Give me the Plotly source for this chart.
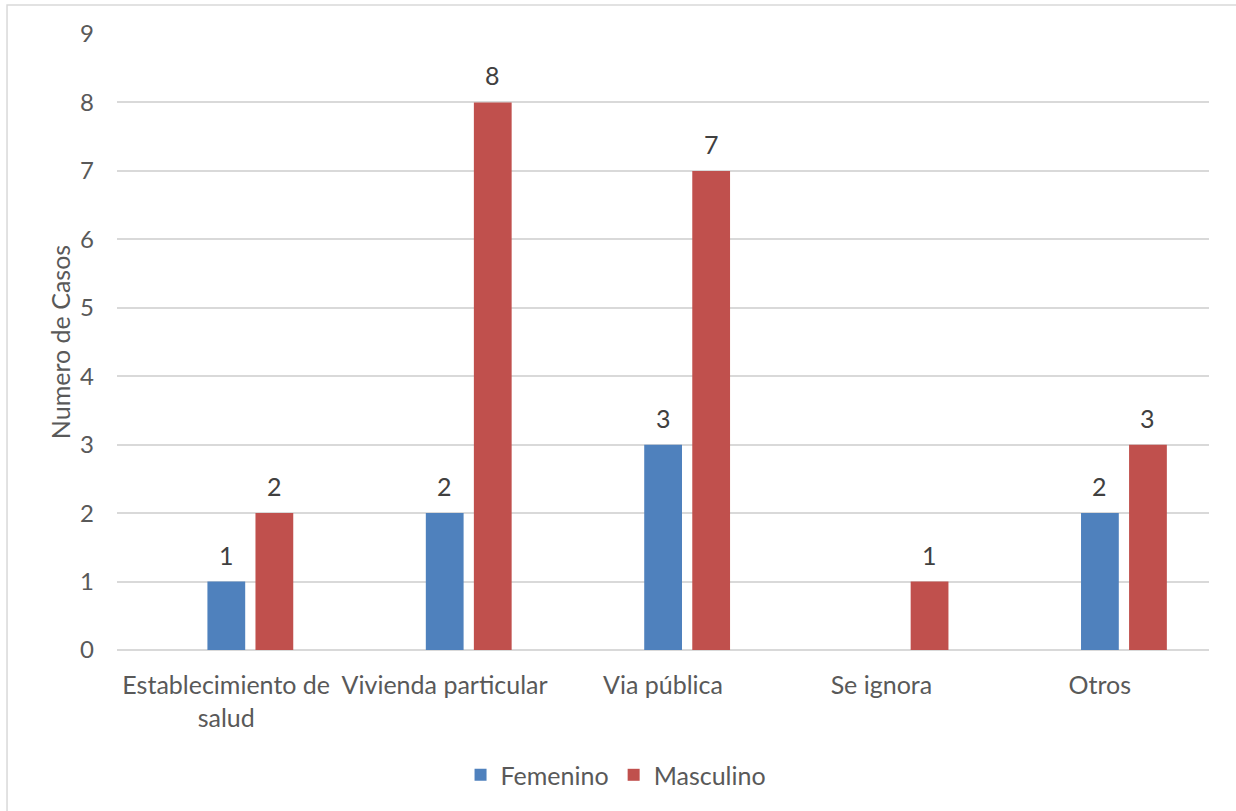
import plotly.graph_objects as go

# Lugar de ocurrencia y número de casos por sexo
categorias = ["Establecimiento de<br>salud", "Vivienda particular", "Via pública", "Se ignora", "Otros"]
femenino = [1, 2, 3, None, 2]
masculino = [2, 8, 7, 1, 3]

y_ticks = list(range(0, 10))

AZUL = "#4F81BD"
ROJO = "#C0504D"
FUENTE = "Lato, 'Open Sans', sans-serif"
GRIS_TEXTO = "#595959"
TAM = 25

ANCHO = 0.173
OFF_F = -0.086
OFF_M = 0.134

fig = go.Figure()
fig.add_trace(go.Bar(
    name="Femenino", x=categorias, y=femenino,
    marker=dict(color=AZUL, line=dict(width=0)),
    width=ANCHO, offset=OFF_F,
))
fig.add_trace(go.Bar(
    name="Masculino", x=categorias, y=masculino,
    marker=dict(color=ROJO, line=dict(width=0)),
    width=ANCHO, offset=OFF_M,
))

# Etiquetas de valor sobre cada barra
anotaciones = []
for serie, off in ((femenino, OFF_F), (masculino, OFF_M)):
    for i, v in enumerate(serie):
        if v is None:
            continue
        anotaciones.append(dict(
            x=i + off + ANCHO / 2, y=v, xref="x", yref="y",
            text=str(v), showarrow=False, yanchor="bottom", yshift=10,
            font=dict(family=FUENTE, size=TAM, color="#404040"),
        ))

fig.update_layout(
    width=1236, height=811,
    margin=dict(l=117, r=27, t=34, b=161),
    paper_bgcolor="white", plot_bgcolor="white",
    font=dict(family=FUENTE, size=TAM, color=GRIS_TEXTO),
    barmode="overlay",
    showlegend=True,
    legend=dict(
        orientation="h", x=0.457, xanchor="center", y=-0.203, yanchor="middle",
        font=dict(family=FUENTE, size=TAM, color=GRIS_TEXTO),
        bgcolor="rgba(0,0,0,0)", itemwidth=30,
    ),
    annotations=anotaciones,
    shapes=[dict(
        type="rect", xref="paper", yref="paper",
        x0=-0.1007, x1=1.03, y0=-0.27, y1=1.047,
        line=dict(color="#D9D9D9", width=1.5), fillcolor="rgba(0,0,0,0)", layer="below",
    )],
)

fig.update_xaxes(
    type="category", range=[-0.5, 4.5],
    showgrid=False, showline=False, zeroline=False, ticks="",
    tickfont=dict(family=FUENTE, size=TAM, color=GRIS_TEXTO),
    ticklabelstandoff=18,
)
fig.update_yaxes(
    range=[0, 9], tickvals=y_ticks, showgrid=True, gridcolor="#D9D9D9", gridwidth=1.5,
    zeroline=True, zerolinecolor="#D9D9D9", zerolinewidth=1.5,
    showline=False, ticks="",
    tickfont=dict(family=FUENTE, size=24, color=GRIS_TEXTO),
    ticklabelstandoff=22,
    title=dict(text="Numero de Casos", standoff=2,
               font=dict(family=FUENTE, size=TAM, color=GRIS_TEXTO)),
)

fig.write_html("out.html")
